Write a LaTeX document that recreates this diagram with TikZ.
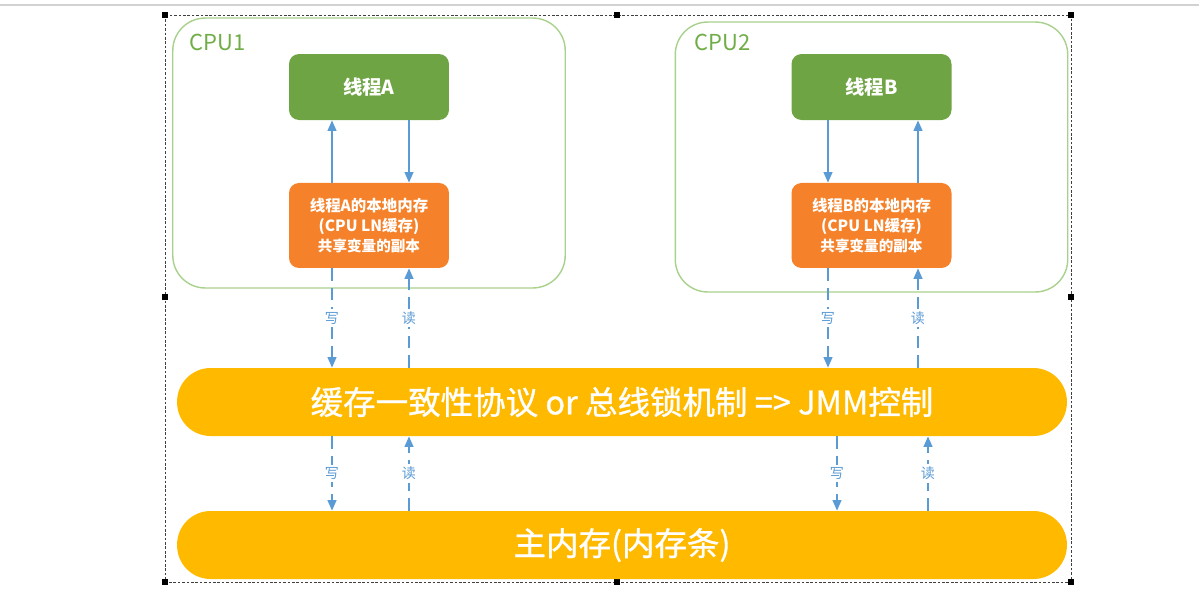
\documentclass[tikz,border=0pt]{standalone}
\usepackage{fontspec}
\setmainfont{Noto Sans CJK SC}
\newfontfamily\busfont[FakeBold=0.9]{Noto Sans CJK SC}
\usetikzlibrary{positioning, arrows.meta, calc}

\definecolor{cpuline}{HTML}{A9D18E}
\definecolor{cputext}{HTML}{70AD47}
\definecolor{thgreen}{HTML}{6FA445}
\definecolor{locorange}{HTML}{F5822A}
\definecolor{busyellow}{HTML}{FFBA00}
\definecolor{arrblue}{HTML}{5B9BD5}

\begin{document}
\begin{tikzpicture}[x=0.02cm, y=-0.02cm,
cpu/.style={rectangle, draw=cpuline, line width=0.8pt, rounded corners=0.65cm,
    minimum width=7.85cm, minimum height=5.4cm},
cpu-name/.style={text=cputext, font=\fontsize{12.5}{14}\selectfont, anchor=west, inner sep=0pt},
thread/.style={rectangle, rounded corners=0.2cm, fill=thgreen, text=white,
    font=\bfseries\fontsize{11}{13}\selectfont, minimum width=3.2cm, minimum height=1.32cm},
local/.style={thread, fill=locorange, align=center, minimum height=1.7cm,
    font=\bfseries\fontsize{8.8}{11.5}\selectfont, node distance=2.77cm},
bus/.style={rectangle, rounded corners=0.67cm, fill=busyellow, text=white,
    minimum width=17.8cm, minimum height=1.36cm, font=\busfont\fontsize{18.5}{20}\selectfont},
line/.style={draw=arrblue, line width=1pt, -{Triangle[length=6pt, width=5pt]}},
dline/.style={line, dash pattern=on 7pt off 4pt},
tag/.style={fill=white, text=arrblue, inner sep=1.5pt, font=\fontsize{8}{9}\selectfont}
]
\useasboundingbox (0,0) rectangle (1199,593);

\draw[gray!35, line width=1pt] (0,5) -- (1199,5);
\draw[dash pattern=on 1.5pt off 1pt, black!75] (165,15) rectangle (1071,582);
\foreach \p in {(165,15),(617,15),(1071,15),(165,297),(1071,297),(165,582),(617,582),(1071,582)}
  \fill \p +(-3,-3) rectangle +(3,3);

\node [cpu] (cpu1) at (369,153) {};
\node [cpu] (cpu2) at (871.5,157) {};
\node [cpu-name] (cpu1-name) at ($(cpu1.north west)+(17,25)$) {CPU1};
\node [cpu-name] (cpu2-name) at ($(cpu2.north west)+(20,21)$) {CPU2};

\node [thread] (thread-a) at (369,87) {线程A};
\node [local, below of=thread-a] (local-a) {线程A的本地内存\\(CPU LN缓存)\\{\fontsize{8.3}{10}\selectfont 共享变量的副本}};
\node [thread] (thread-b) at (871.5,87) {线程B};
\node [local, below of=thread-b] (local-b) {线程B的本地内存\\(CPU LN缓存)\\{\fontsize{8.3}{10}\selectfont 共享变量的副本}};

\node [bus] (bus) at (622,402) {缓存一致性协议 or 总线锁机制 => JMM控制};
\node [bus] (mem) at (622,545) {主内存(内存条)};

\coordinate (a-w) at ($(local-a.south)+(-37,0)$);
\coordinate (a-r) at ($(local-a.south)+(40,0)$);
\coordinate (b-w) at ($(local-b.south)+(-43.5,0)$);
\coordinate (b-r) at ($(local-b.south)+(46.5,0)$);
\coordinate (a-w2) at ($(mem.north)+(-290,0)$);
\coordinate (a-r2) at ($(mem.north)+(-213,0)$);
\coordinate (b-w2) at ($(mem.north)+(215,0)$);
\coordinate (b-r2) at ($(mem.north)+(306,0)$);

\draw [line] (a-w |- local-a.north) -- (a-w |- thread-a.south);
\draw [line] (a-r |- thread-a.south) -- (a-r |- local-a.north);
\draw [line] (b-w |- thread-b.south) -- (b-w |- local-b.north);
\draw [line] (b-r |- local-b.north) -- (b-r |- thread-b.south);

\draw [dline] (a-w) -- node [tag] {写} (a-w |- bus.north);
\draw [dline] (a-r |- bus.north) -- node [tag] {读} (a-r);
\draw [dline] (b-w) -- node [tag] {写} (b-w |- bus.north);
\draw [dline] (b-r |- bus.north) -- node [tag] {读} (b-r);

\draw [dline] (a-w2 |- bus.south) -- node [tag] {写} (a-w2);
\draw [dline] (a-r2) -- node [tag] {读} (a-r2 |- bus.south);
\draw [dline] (b-w2 |- bus.south) -- node [tag] {写} (b-w2);
\draw [dline] (b-r2) -- node [tag] {读} (b-r2 |- bus.south);
\end{tikzpicture}
\end{document}
